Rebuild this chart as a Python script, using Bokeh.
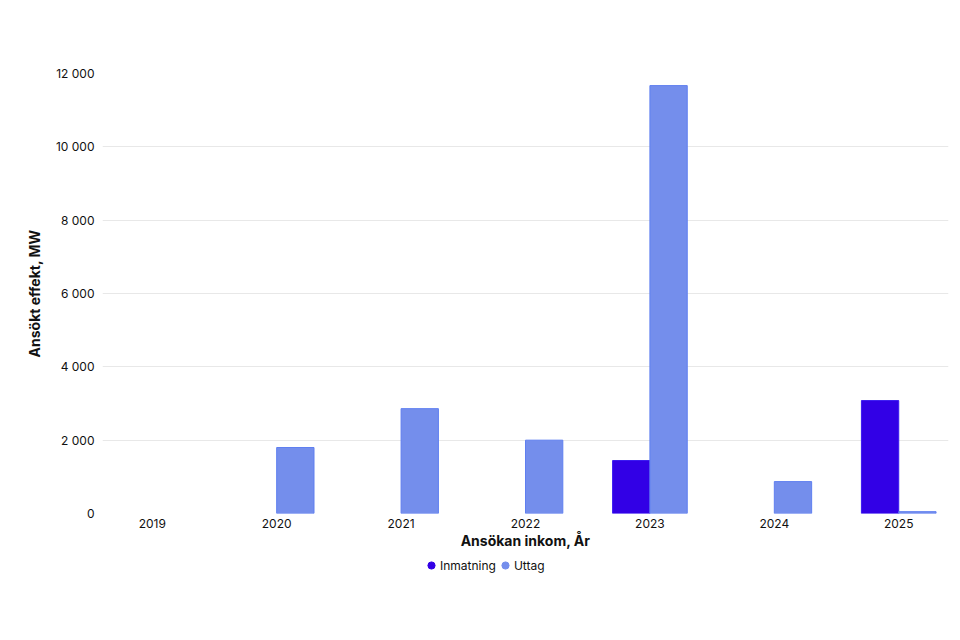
from bokeh.plotting import figure
from bokeh.layouts import column
from bokeh.models import ColumnDataSource, Range1d, FixedTicker, Legend, LegendItem
from bokeh.transform import dodge
from bokeh.embed import file_html
from bokeh.resources import INLINE

years = ["2019", "2020", "2021", "2022", "2023", "2024", "2025"]
inmatning = [None, None, None, None, 1445, None, 3080]
uttag = [None, 1800, 2860, 2000, 11670, 870, 50]
y_ticks = [0, 2000, 4000, 6000, 8000, 10000, 12000]
y_tick_labels = ["0", "2 000", "4 000", "6 000", "8 000", "10 000", "12 000"]

nan = float("nan")
src = ColumnDataSource(dict(
    idx=list(range(len(years))),
    inmatning=[nan if v is None else v for v in inmatning],
    uttag=[nan if v is None else v for v in uttag],
))

C_IN = "#3200e6"
C_UT = "#748eec"

p = figure(width=952, height=553, output_backend="svg", toolbar_location=None,
           x_range=Range1d(-0.4, len(years) - 0.6), y_range=Range1d(0, 12000),
           min_border_left=102, min_border_right=4, min_border_top=73, min_border_bottom=40)
p.outline_line_color = None
p.background_fill_color = "white"
p.border_fill_color = "white"

p.vbar(x=dodge("idx", -0.15), top="inmatning", width=0.3, source=src,
       fill_color=C_IN, line_color="#3a1af0", line_width=1)
p.vbar(x=dodge("idx", 0.15), top="uttag", width=0.3, source=src,
       fill_color=C_UT, line_color="#5f7ff0", line_width=1)

p.xaxis.ticker = FixedTicker(ticks=list(range(len(years))))
p.xaxis.major_label_overrides = {i: y for i, y in enumerate(years)}
p.yaxis.ticker = FixedTicker(ticks=y_ticks)
p.yaxis.major_label_overrides = {t: l for t, l in zip(y_ticks, y_tick_labels)}

for ax in (p.xaxis[0], p.yaxis[0]):
    ax.axis_line_color = None
    ax.major_tick_line_color = None
    ax.minor_tick_line_color = None
    ax.major_tick_out = 0
    ax.major_tick_in = 0
    ax.minor_tick_out = 0
    ax.major_label_text_font = "Inter"
    ax.major_label_text_font_size = "12px"
    ax.major_label_text_color = "#111111"
    ax.axis_label_text_font = "Inter"
    ax.axis_label_text_font_style = "bold"
    ax.axis_label_text_font_size = "14px"
    ax.axis_label_text_color = "#111111"

p.xaxis.axis_label = "Ansökan inkom, År"
p.yaxis.axis_label = "Ansökt effekt, MW"
p.xaxis.major_label_standoff = 5
p.xaxis.axis_label_standoff = 1
p.yaxis.major_label_standoff = 8
p.yaxis.axis_label_standoff = 10

p.xgrid.grid_line_color = None
p.ygrid.grid_line_color = "#e8e8e8"
p.ygrid.grid_line_width = 1

# legend strip below the chart
p2 = figure(width=952, height=24, output_backend="svg", toolbar_location=None,
            x_range=Range1d(0, 1), y_range=Range1d(0, 1),
            x_axis_type=None, y_axis_type=None, min_border=0)
p2.outline_line_color = None
p2.xgrid.grid_line_color = None
p2.ygrid.grid_line_color = None

leg_src = ColumnDataSource(dict(x=[nan], y=[nan]))
r_in = p2.scatter(x="x", y="y", source=leg_src, marker="circle", size=10, fill_color=C_IN, line_color=C_IN)
r_ut = p2.scatter(x="x", y="y", source=leg_src, marker="circle", size=10, fill_color=C_UT, line_color=C_UT)
legend = Legend(items=[LegendItem(label="Inmatning", renderers=[r_in]),
                       LegendItem(label="Uttag", renderers=[r_ut])],
                orientation="horizontal", location=(320, 3),
                label_text_font="Inter", label_text_font_size="12px",
                label_text_color="#111111", glyph_width=18, glyph_height=18,
                label_standoff=0, spacing=0, padding=2, margin=0,
                label_height=14,
                border_line_color=None, background_fill_alpha=0)
p2.add_layout(legend, "center")

layout = column(p, p2, spacing=0)
open("out.html", "w").write(file_html(layout, INLINE))
